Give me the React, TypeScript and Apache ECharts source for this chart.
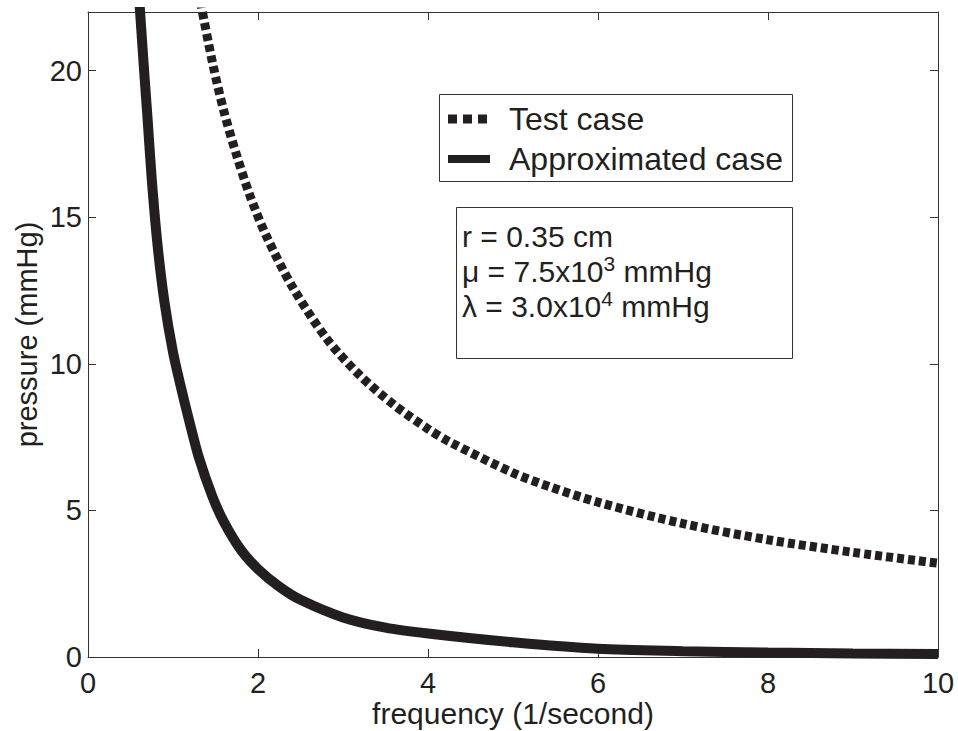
import React, { useEffect, useRef } from "react";
import * as echarts from "echarts";

const xTicks = [0, 2, 4, 6, 8, 10];
const yTicks = [0, 5, 10, 15, 20];

const testFreq = [1.28, 1.32, 1.47, 1.6, 1.75, 1.91, 2.1, 2.4, 2.81, 3.2, 3.6, 4.0, 4.26, 5.0, 5.44, 6.0, 7.0, 8.0, 9.0, 10.0];
const testPressure = [23.1, 22.4, 20.2, 18.6, 17.1, 15.7, 14.35, 12.65, 10.85, 9.6, 8.6, 7.78, 7.33, 6.28, 5.8, 5.28, 4.55, 4.0, 3.57, 3.2];

const approxFreq = [0.58, 0.62, 0.66, 0.7, 0.75, 0.82, 0.9, 1.0, 1.11, 1.2, 1.3, 1.46, 1.6, 1.8, 2.0, 2.25, 2.5, 3.0, 3.5, 4.0, 5.0, 6.0, 7.0, 8.0, 9.0, 10.0];
const approxPressure = [23.4, 21.7, 20, 18.4, 16.3, 14.0, 12.1, 10.4, 9.0, 7.95, 6.85, 5.5, 4.6, 3.65, 3.0, 2.4, 1.95, 1.35, 1.0, 0.8, 0.5, 0.28, 0.2, 0.15, 0.12, 0.1];

const seriesNames = ["Test case", "Approximated case"];
const paramLines = ["r = 0.35 cm", "μ = 7.5x10{s|3} mmHg", "λ = 3.0x10{s|4} mmHg"];

const INK = "#231f20";
const FONT = "'Liberation Sans', Arial, Helvetica, sans-serif";

export default function App() {
  const ref = useRef<HTMLDivElement>(null);
  useEffect(() => {
    if (!ref.current) return;
    const chart = echarts.init(ref.current, null, { renderer: "svg" });
    const pairs = (xs: number[], ys: number[]) => xs.map((x, i) => [x, ys[i]]);
    const axisCommon = {
      axisLine: { show: true, onZero: false, lineStyle: { color: "#333", width: 1 } },
      axisTick: { show: true, inside: true, length: 8, lineStyle: { color: "#333", width: 1 } },
      splitLine: { show: false },
    };
    chart.setOption({
      animation: false,
      backgroundColor: "#fff",
      textStyle: { fontFamily: FONT },
      grid: { left: 88, right: 20, top: 12, bottom: 74, containLabel: false, outerBoundsMode: "none" },
      xAxis: [
        {
          type: "value", min: 0, max: 10, interval: 2, position: "bottom",
          name: "frequency (1/second)", nameLocation: "middle", nameGap: 44, nameMoveOverlap: false,
          nameTextStyle: { fontSize: 30, lineHeight: 24, color: INK, fontFamily: FONT },
          axisLabel: { fontSize: 29, lineHeight: 22, color: INK, margin: 15, fontFamily: FONT,
            formatter: (v: number) => (xTicks.includes(v) ? String(v) : "") },
          ...axisCommon,
        },
        {
          type: "value", min: 0, max: 10, interval: 2, position: "top",
          axisLabel: { show: false }, ...axisCommon,
        },
      ],
      yAxis: [
        {
          type: "value", min: 0, max: 22, interval: 5, position: "left",
          name: "pressure (mmHg)", nameLocation: "middle", nameGap: 47, nameMoveOverlap: false,
          nameTextStyle: { fontSize: 29, color: INK, fontFamily: FONT },
          axisLabel: { fontSize: 29, color: INK, margin: 6, fontFamily: FONT,
            formatter: (v: number) => (yTicks.includes(v) ? String(v) : "") },
          ...axisCommon,
        },
        {
          type: "value", min: 0, max: 22, interval: 5, position: "right",
          axisLabel: { show: false }, ...axisCommon,
        },
      ],
      series: [
        {
          name: seriesNames[0], type: "line", data: pairs(testFreq, testPressure),
          smooth: 0.3, showSymbol: false, clip: true,
          lineStyle: { color: INK, width: 9, type: [7, 4], cap: "butt" },
        },
        {
          name: seriesNames[1], type: "line", data: pairs(approxFreq, approxPressure),
          smooth: 0.3, showSymbol: false, clip: true,
          lineStyle: { color: INK, width: 10 },
        },
      ],
      graphic: [
        { type: "rect", shape: { x: 439.5, y: 94.5, width: 353, height: 87 },
          style: { fill: "#fff", stroke: "#333", lineWidth: 1 }, z: 100 },
        { type: "line", shape: { x1: 448, y1: 119, x2: 490, y2: 119 },
          style: { stroke: INK, lineWidth: 9, lineDash: [9, 6], lineCap: "butt" }, z: 101 },
        { type: "line", shape: { x1: 448, y1: 159, x2: 490, y2: 159 },
          style: { stroke: INK, lineWidth: 8 }, z: 101 },
        { type: "text", x: 509, y: 119, z: 101,
          style: { text: seriesNames[0], fontSize: 32, fill: INK, fontFamily: FONT, verticalAlign: "middle" } },
        { type: "text", x: 509, y: 159, z: 101,
          style: { text: seriesNames[1], fontSize: 32, fill: INK, fontFamily: FONT, verticalAlign: "middle" } },
        { type: "rect", shape: { x: 456.5, y: 207.5, width: 336, height: 151 },
          style: { fill: "#fff", stroke: "#333", lineWidth: 1 }, z: 100 },
        ...paramLines.map((t, i) => ({
          type: "text", x: 462, y: 236 + i * 35, z: 101,
          style: {
            text: t, fontSize: 30, fill: INK, fontFamily: FONT, verticalAlign: "middle",
            rich: { s: { fontSize: 21, verticalAlign: "top", padding: [0, 0, 16, 0], fill: INK, fontFamily: FONT } },
          },
        })),
      ],
    });
    return () => chart.dispose();
  }, []);
  return <div ref={ref} style={{ position: "fixed", left: 0, top: 0, width: 958, height: 731 }} />;
}
